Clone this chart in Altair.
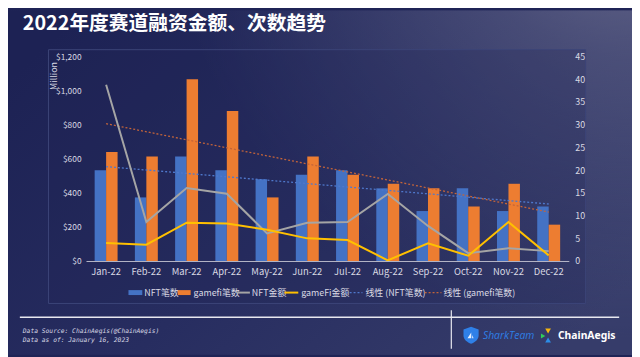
import altair as alt
import pandas as pd

months = ['Jan-22', 'Feb-22', 'Mar-22', 'Apr-22', 'May-22', 'Jun-22',
          'Jul-22', 'Aug-22', 'Sep-22', 'Oct-22', 'Nov-22', 'Dec-22']
nft_count = [20, 14, 23, 20, 18, 19, 20, 16, 11, 16, 11, 12]
gamefi_count = [24, 23, 40, 33, 14, 23, 19, 17, 16, 12, 17, 8]
nft_amount = [1035, 229, 428, 395, 162, 225, 229, 393, 206, 46, 75, 58]
gamefi_amount = [106, 96, 225, 220, 183, 133, 123, 4, 104, 31, 229, 33]

left_ticks = [0, 200, 400, 600, 800, 1000, 1200]
right_ticks = [0, 5, 10, 15, 20, 25, 30, 35, 40, 45]

df = pd.DataFrame({
    'month': months,
    'idx': list(range(len(months))),
    'nft_count': nft_count,
    'gamefi_count': gamefi_count,
    'nft_amount': nft_amount,
    'gamefi_amount': gamefi_amount,
})

FONT = 'Noto Sans CJK SC'
LABEL = '#d9d9e3'
BLUE = '#4472c4'
ORANGE = '#ed7d31'

x_axis = alt.Axis(title=None, labelAngle=0, ticks=False, domainColor='#b8b8c8',
                  domainWidth=1, labelColor=LABEL, labelFontSize=9.5, labelPadding=6,
                  labelFont=FONT, zindex=1)
x_enc = alt.X('month:N', sort=months,
              scale=alt.Scale(paddingInner=0.43, paddingOuter=0.215), axis=x_axis)

right_axis = alt.Axis(orient='right', values=right_ticks, title=None, grid=False,
                      domain=False, ticks=False, labelColor=LABEL, labelFontSize=9,
                      labelPadding=6, labelFlush=False, labelFont=FONT, zindex=1)
left_axis = alt.Axis(orient='left', values=left_ticks, format='$,.0f', title='Million',
                     grid=False, domain=False, ticks=False, labelColor=LABEL,
                     labelFontSize=8.5, labelPadding=5, labelFlush=False, labelFont=FONT,
                     titleColor=LABEL, titleFontSize=9, titleFontWeight='normal',
                     titleFont=FONT, titleAngle=-90, titleX=-33, titleY=5,
                     titleAlign='right', titleBaseline='middle', zindex=1)

count_scale = alt.Scale(domain=[0, 45])
amount_scale = alt.Scale(domain=[0, 1200])

month_expr = "[" + ",".join("'" + m + "'" for m in months) + "][round(datum.idx)]"

bars = alt.Chart(df).transform_fold(
    ['nft_count', 'gamefi_count'], as_=['series', 'value']
).mark_bar().encode(
    x=x_enc,
    xOffset=alt.XOffset('series:N', sort=['nft_count', 'gamefi_count'],
                        scale=alt.Scale(paddingInner=0, paddingOuter=0)),
    y=alt.Y('value:Q', scale=count_scale, axis=right_axis),
    color=alt.Color('series:N', scale=alt.Scale(domain=['nft_count', 'gamefi_count'],
                                                range=[BLUE, ORANGE]), legend=None),
)

trend_nft = alt.Chart(df).transform_regression('idx', 'nft_count').transform_calculate(
    month=month_expr
).mark_line(strokeDash=[2, 2], strokeWidth=1.3, color='#4f78cc').encode(
    x=x_enc, y=alt.Y('nft_count:Q', scale=count_scale, axis=right_axis))

trend_gamefi = alt.Chart(df).transform_regression('idx', 'gamefi_count').transform_calculate(
    month=month_expr
).mark_line(strokeDash=[2, 2], strokeWidth=1.3, color='#c3643a').encode(
    x=x_enc, y=alt.Y('gamefi_count:Q', scale=count_scale, axis=right_axis))

counts_layer = alt.layer(bars, trend_nft, trend_gamefi)

line_nft = alt.Chart(df).mark_line(strokeWidth=2, color='#a5a5a5').encode(
    x=x_enc, y=alt.Y('nft_amount:Q', scale=amount_scale, axis=left_axis))
line_gamefi = alt.Chart(df).mark_line(strokeWidth=2, color='#ffc000').encode(
    x=x_enc, y=alt.Y('gamefi_amount:Q', scale=amount_scale, axis=left_axis))

amounts_layer = alt.layer(line_nft, line_gamefi)

one = alt.Data(values=[{'a': 1}])


def rect(x, x2, y, y2, **kw):
    return alt.Chart(one).mark_rect(**kw).encode(
        x=alt.value(x), x2=alt.value(x2), y=alt.value(y), y2=alt.value(y2))


def hrule(x, x2, y, **kw):
    return alt.Chart(one).mark_rule(**kw).encode(
        x=alt.value(x), x2=alt.value(x2), y=alt.value(y))


def vrule(x, y, y2, **kw):
    return alt.Chart(one).mark_rule(**kw).encode(
        x=alt.value(x), y=alt.value(y), y2=alt.value(y2))


def text(x, y, t, **kw):
    opts = dict(align='left', baseline='middle', font=FONT, color=LABEL, fontSize=9)
    opts.update(kw)
    return alt.Chart(one).mark_text(text=t, **opts).encode(
        x=alt.value(x), y=alt.value(y))


def sym(x, y, shape, size, color):
    return alt.Chart(one).mark_point(shape=shape, size=size, filled=True, color=color,
                                     opacity=1, strokeWidth=0).encode(
        x=alt.value(x), y=alt.value(y))


bg = rect(-79, 553, -47, 302, fill=alt.LinearGradient(
    gradient='linear', x1=0, y1=0.2, x2=1, y2=0.8,
    stops=[alt.GradientStop(color='#1d2254', offset=0),
           alt.GradientStop(color='#272d60', offset=0.5),
           alt.GradientStop(color='#363c6a', offset=1)]))
glow = rect(-79, 553, -47, 302, fill=alt.RadialGradient(
    gradient='radial', x1=1, y1=0, x2=1, y2=0, r1=0, r2=0.75,
    stops=[alt.GradientStop(color='rgba(135,135,160,0.85)', offset=0),
           alt.GradientStop(color='rgba(110,112,145,0.45)', offset=0.4),
           alt.GradientStop(color='rgba(90,95,135,0)', offset=1)]))
panel = rect(-38, 506, -7, 250, fill='rgba(30,36,85,0.25)', stroke='#3c4478',
             strokeWidth=1)

title = text(-64, -33, '2022年度赛道融资金额、次数趋势', fontSize=20, fontWeight='bold',
             color='#ffffff')

ly = 239
legend = [
    rect(43, 57, ly - 2.5, ly + 2.5, fill=BLUE),
    text(59, ly, 'NFT笔数'),
    rect(93, 106, ly - 2.5, ly + 2.5, fill=ORANGE),
    text(109, ly, 'gamefi笔数'),
    hrule(153, 166, ly, color='#a5a5a5', strokeWidth=2),
    text(168, ly, 'NFT金额'),
    hrule(201, 215, ly, color='#ffc000', strokeWidth=2),
    text(218, ly, 'gameFi金额'),
    hrule(263, 280, ly, color='#4f78cc', strokeWidth=1.3, strokeDash=[2, 2]),
    text(283, ly, '线性 (NFT笔数)'),
    hrule(343, 360, ly, color='#c3643a', strokeWidth=1.3, strokeDash=[2, 2]),
    text(362, ly, '线性 (gamefi笔数)'),
]

shield = 'M0,-1 L0.9,-0.65 L0.9,0.05 C0.9,0.55 0.45,0.85 0,1.05 C-0.45,0.85 -0.9,0.55 -0.9,0.05 L-0.9,-0.65 Z'
sail = 'M-0.55,0.45 L0.25,-0.75 L0.25,0.45 Z M0.45,0.45 L0.45,-0.2 L0.75,0.45 Z'
footer = [
    hrule(-67, 540, 264, color='#e8e8f0', strokeWidth=1.5),
    vrule(370, 257, 296, color='#e8e8f0', strokeWidth=1.2),
    text(-64, 278, 'Data Source: ChainAegis(@ChainAegis)', font='DejaVu Sans Mono',
         fontStyle='italic', fontSize=6.4, color='#d8d8e4'),
    text(-64, 287, 'Data as of: January 16, 2023', font='DejaVu Sans Mono',
         fontStyle='italic', fontSize=6.4, color='#d8d8e4'),
    sym(390, 282, shield, 290, '#2f80e8'),
    sym(389, 283, sail, 90, '#e8f0ff'),
    text(402, 283, 'SharkTeam', font='Open Sans', fontStyle='italic', fontSize=10.5,
         color='#2f7fe6'),
    sym(468, 278, 'triangle-down', 34, '#f5b50f'),
    sym(468, 287, 'triangle-up', 34, '#2c8de8'),
    sym(463, 283, 'triangle-right', 26, '#2fcf5a'),
    text(478, 283, 'ChainAegis', font='Noto Sans', fontWeight='bold', fontSize=10.5,
         color='#ffffff'),
]

chart = alt.layer(
    bg, glow, panel, counts_layer, amounts_layer, title, *legend, *footer
).resolve_scale(y='independent').properties(
    width=489, height=207,
    padding={'left': 79, 'top': 47, 'right': 64, 'bottom': 95},
    autosize=alt.AutoSizeParams(type='none'),
    background='#1f2456',
).configure_view(strokeWidth=0)

chart.save('out.html', embed_options={'renderer': 'svg', 'actions': False})
